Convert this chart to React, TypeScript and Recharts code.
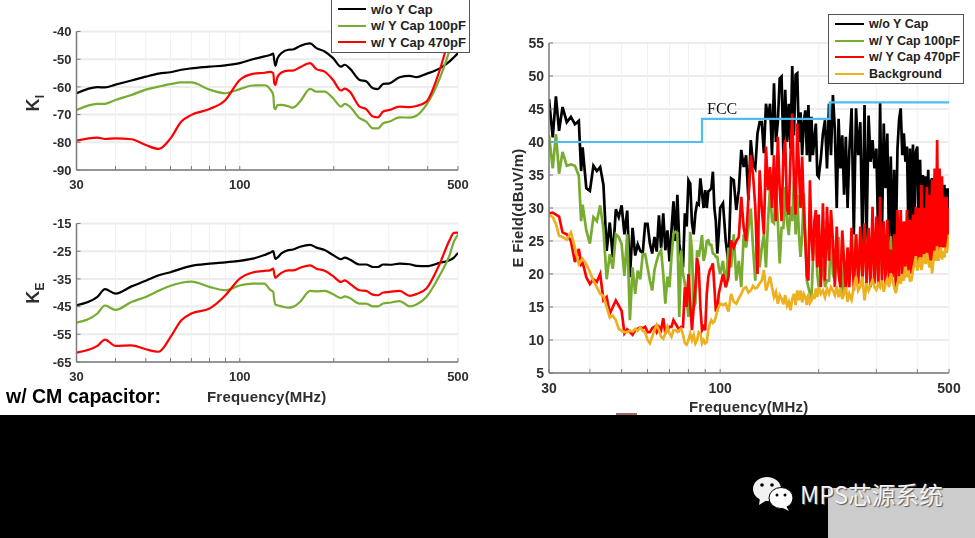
import { CartesianGrid, Line, LineChart, XAxis, YAxis } from "recharts";

// left-hand charts, KI and KE
const coefFreq = [
  30, 35, 37, 40, 45, 50, 55, 60, 65, 70, 80, 90, 100, 110, 120, 125, 128, 129, 130, 132, 136, 143, 148,
  156, 168, 176, 187, 199, 211, 217, 225, 242, 254, 267, 277, 288, 302, 325, 350, 368, 396, 437, 470, 485, 500,
];
const kiNoCap = [
  -62.3, -60.1, -60.2, -59.2, -57.7, -56.3, -55.2, -54.7, -53.8, -53.3, -52.7, -52.2, -51.4, -50, -49, -48.5, -48, -50.5, -52.4, -49.8, -47.8, -46.6, -46.5,
  -45.2, -44.3, -46, -47.2, -49.6, -52.7, -52, -53.3, -57.5, -58, -60.5, -60.8, -58.9, -58.7, -56.5, -56, -56.5, -55.3, -53.3, -50.8, -49.3, -47.8,
];
const ki100pF = [
  -68.3, -66.1, -66.1, -64.7, -62.9, -61, -59.9, -59, -58.4, -58.4, -61, -62.3, -60.8, -59.5, -59.4, -60.8, -62.9, -67.7, -68, -66.6, -66.5, -67, -67.5,
  -65.3, -60.7, -61.7, -61.7, -64.1, -67.1, -66.1, -67.1, -71.3, -72.5, -75, -75, -73.1, -72.5, -71, -71.1, -70.4, -66.5, -56.9, -46.6, -40.6, -35.8,
];
const ki470pF = [
  -79.4, -78.3, -78.8, -78.6, -78.9, -81, -82.4, -78.6, -72.5, -70.1, -68, -64.7, -57.5, -55.3, -54.9, -54.6, -55, -58.7, -59.3, -56.5, -54.8, -54.1, -54.1,
  -52.9, -51.4, -53.6, -54.5, -57.5, -61.3, -60.6, -61.7, -67.1, -68, -70.7, -71, -68.9, -68.3, -67.1, -67.3, -66.9, -65.3, -53.9, -41.8, -37, -34.6,
];
const keNoCap = [
  -44.5, -41.5, -38.7, -40.3, -37.7, -35.7, -33.7, -32.6, -31.3, -30.3, -29.5, -29, -28.5, -27.7, -26.4, -25.6, -25, -26.4, -27.8, -27.3, -25.8, -24.6, -24.4,
  -23.4, -22.7, -23.7, -24.6, -26.4, -27.9, -27.3, -28, -29.8, -29.8, -30.7, -30.7, -29.8, -29.9, -29.5, -29.7, -30.3, -30.4, -29.2, -28.3, -27.3, -25.6,
];
const ke100pF = [
  -50.8, -47.5, -44.6, -46.2, -43.3, -41.5, -39.3, -37.5, -36.4, -36, -37.9, -39.1, -37.4, -36.7, -36.7, -38.9, -39.7, -42.7, -44.2, -44.5, -44.9, -45.4, -45.1,
  -43.3, -39.3, -39.5, -39.3, -40.5, -41.9, -41.3, -41.9, -43.9, -43.9, -44.9, -44.9, -43.9, -43.6, -43, -44.9, -44.2, -41.5, -33.7, -26.4, -21.6, -19,
];
const ke470pF = [
  -61.6, -59.2, -56.9, -59.2, -59, -60.4, -61.3, -56, -49.9, -47.5, -45.7, -40.9, -34.9, -32.7, -32.1, -31.9, -31.3, -33.3, -34.6, -34, -32.8, -31.9, -31.9,
  -31, -30.1, -31.3, -32.1, -34, -36.1, -35.5, -36.7, -39.1, -39.3, -40.7, -40.9, -39.9, -39.7, -39.3, -41.1, -40.5, -38.5, -29.5, -21, -18.4, -18.3,
];

// right-hand chart, measured E field
const fieldFreq = [
  30, 30.8, 31.5, 32.2, 33, 34, 35, 36, 37, 37.6,
  38, 39, 40, 41, 42, 43, 44, 45, 46, 47,
  48, 49, 50, 51, 52, 53, 54, 55, 56, 57,
  58, 59, 60, 61, 62, 63, 64, 65, 66, 67,
  68, 69, 70, 71, 72, 73, 74, 75, 76, 77,
  78, 79, 80, 81, 82, 83, 84, 85, 86, 87,
  88, 89, 90, 91, 92, 93, 94, 95, 96, 97,
  98, 99, 100,
  102, 104, 106, 108, 110, 112, 114, 116, 118, 120,
  122, 124, 126, 128, 130, 132, 134, 136, 138, 140,
  142, 144, 146, 148, 150, 152, 154, 156, 158, 160,
  162, 164, 166, 168, 170, 172, 174, 176, 178, 180,
  182, 184, 186, 188, 190, 192, 194, 196, 198, 200,
  203, 206, 209, 212, 215, 218, 221, 224, 227, 230, 233, 236, 239, 242, 245, 248,
  252, 256, 260, 264, 268, 272, 276, 280, 284, 288,
  292, 296, 300, 304, 308, 312, 316, 320, 324, 328,
  332, 336, 340, 344, 348, 352, 356, 360, 364, 368,
  372, 376, 380, 384, 388, 392, 396, 400, 404, 408,
  412, 416, 420, 424, 428, 432, 436, 440, 444, 448,
  452, 456, 460, 464, 468, 472, 476, 480, 484, 488,
  492, 496, 500,
];
const fieldNoCap = [
  46.5, 40.7, 46.9, 41.7, 45.3, 43, 43.8, 42.7, 43.2, 35.6,
  39.2, 33, 32.6, 36.4, 35.6, 36.2, 33.5, 23.5, 27.8, 22.5,
  29.8, 28.6, 30.4, 26, 29.6, 19.5, 27, 22.8, 24.5, 23.5,
  23.2, 27.6, 27.6, 24.6, 23.1, 25.6, 23.4, 28.9, 23.9, 29.2,
  23.6, 26.6, 21.9, 26.6, 31, 25, 32, 24.6, 22.6, 21,
  29.2, 27.2, 34.2, 33.7, 27.7, 26, 29.2, 30.7, 30.5, 34.5,
  32.2, 30, 32.7, 30, 32.5, 32.7, 33, 35.5, 30, 28,
  23.1, 26, 30,
  30.7, 25, 21.6, 34.5, 34.2, 29.7, 32.7, 38.8, 36.2, 38,
  31.2, 40.3, 36.7, 36, 41.3, 43, 43, 38.3, 45.8, 43.5,
  45.8, 38, 48.9, 40, 43, 49.6, 49.9, 38, 47.9, 40,
  45.8, 39, 51.5, 41, 50.2, 50.4, 40, 44.5, 38, 43,
  44.8, 38, 45.6, 37, 43.8, 38, 40.5, 42.8, 35, 34.7,
  37.5, 41.3, 43.3, 36, 45.8, 38, 47.1, 42, 30, 43.5, 36, 41, 32, 40.8, 30, 38.5,
  45.1, 26, 45.1, 38, 43, 24, 45.6, 25, 44, 37,
  40.3, 36, 39, 25, 45.9, 26, 42.8, 33, 41.3, 24,
  37.8, 24, 35.8, 24, 39, 43.4, 45.1, 38, 41.3, 37,
  39.3, 26, 39, 26, 39.6, 27, 38.5, 39.3, 27, 37.3,
  27, 35, 27, 34.8, 27, 35.8, 27, 34, 34.5, 27,
  34, 28, 33, 28, 33, 27, 32.7, 27, 33.5, 27,
  33, 26, 33,
];
const field100pF = [
  41, 36, 41.2, 35.2, 38.5, 36.4, 36.6, 36.4, 34.9, 28,
  30.5, 26.6, 24.6, 28.6, 28, 30.4, 26.8, 19.2, 23, 20.8,
  26, 25.6, 24.5, 19.7, 26, 13, 21, 17, 20.5, 19.2,
  23, 23, 21, 19, 17.5, 20.6, 22, 23.1, 23.6, 20,
  15.5, 19.6, 18, 22.6, 26.1, 26.4, 26.2, 13.5, 23.6, 20,
  18.6, 16, 13.5, 26.4, 23.6, 15, 15.5, 23.6, 22.6, 24,
  25.9, 22, 23, 25, 25.1, 24.4, 24.4, 23.1, 23, 22.6,
  22.6, 21, 20,
  22, 18, 24, 21, 26, 19, 22, 18, 26, 24,
  27, 29.9, 24, 19, 28, 21, 24, 26, 21, 28,
  33.2, 28, 27.7, 33.2, 28, 21.6, 27, 27, 33.2, 28,
  25.9, 30.2, 28, 34.2, 26, 32, 26, 22.6, 26, 32.2,
  26, 19, 18, 17, 16, 22, 25, 25, 20, 18,
  19, 22, 18, 19, 19, 26, 20, 19, 24, 25.6, 20, 17, 22, 18, 24, 19,
  22, 20, 26, 21, 24, 19, 27.5, 21, 26, 20,
  26, 20, 25, 19, 27, 20, 25, 22, 26, 21,
  25.7, 21, 24, 20, 25, 22, 25, 22, 24, 22,
  24, 23, 26, 24, 26, 24, 27, 25, 28, 25,
  28, 25, 29, 26, 30, 26, 26, 27, 28, 25,
  28, 26, 28, 26, 27, 25, 28, 25, 27, 25,
  28, 24, 26,
];
const field470pF = [
  29.2, 29.3, 29, 28.7, 26.3, 26, 25, 21.8, 23.8, 21.5,
  21.8, 19.5, 18.5, 19.2, 18.8, 20, 16, 16.5, 14, 15,
  16, 15.2, 14.4, 11, 11.6, 11.2, 10.8, 11.5, 11.7, 11.9,
  11.8, 12, 11.2, 11.2, 11.8, 12, 11.2, 12, 11.5, 13.3,
  11, 11.5, 12, 12, 13, 12.5, 12, 11.5, 12, 12,
  18, 15, 20, 15.5, 11.5, 15, 18, 22.4, 21, 15,
  11.5, 12, 11.5, 17, 19.6, 20.6, 21, 21.6, 18, 14.5,
  14.5, 17, 18,
  20, 18, 19.5, 25.1, 24, 25, 25.6, 31.7, 27, 25,
  31.7, 38, 35, 30.2, 20, 35.7, 30, 26, 39.3, 32.7,
  36.2, 30, 38, 28, 40.8, 33, 28, 38, 40.3, 30,
  29, 38, 44.3, 34, 29, 42.8, 36, 30, 37.8, 30,
  25, 19.6, 19, 34.2, 26, 22, 28, 29.7, 21, 29,
  18, 30.7, 19, 30.2, 22, 29.7, 25, 18, 27.2, 20, 18, 26.6, 22, 17.5, 24, 18,
  27, 17.5, 26, 18.5, 27.2, 19, 27.7, 18.5, 27, 18,
  30.2, 18.5, 28.7, 18.5, 31.7, 19, 28, 18.5, 28.2, 18.5,
  23.7, 19.5, 26, 18, 29.7, 19.6, 29.7, 20, 28, 21,
  29.7, 20.5, 28.2, 20, 29, 21.5, 30.2, 21, 30, 22.5,
  33.5, 22, 30, 22, 33.2, 22, 32, 22, 34.3, 22,
  36, 23, 40.3, 23, 36, 24, 34.8, 24, 31.7, 24,
  31.7, 25, 30,
];
const fieldBackground = [
  29, 28.6, 27.6, 25.8, 25.6, 25.2, 26.3, 24, 21.5, 22,
  22.3, 21.5, 20.3, 19, 18, 17, 16.7, 15, 13.4, 13.7,
  13, 11.7, 11.4, 11.2, 11.2, 11.4, 11.3, 11.7, 11.4, 11.9,
  11.4, 11.2, 10, 9.5, 10.5, 11.5, 12.3, 11.5, 10.5, 10.2,
  11, 12, 11, 10.5, 11.5, 11.5, 11.2, 11.5, 11.7, 10.8,
  9.5, 9.3, 10, 11, 10, 10.8, 9.5, 10, 11.2, 11,
  9.5, 10, 9.5, 9.7, 11.5, 12.5, 13, 12.6, 12.8, 13.5,
  14.5, 15, 15.5,
  15.3, 15.5, 14.3, 17, 15.8, 15.5, 16.3, 17, 17.8, 18,
  17.2, 17.5, 18.2, 17.8, 18, 18.6, 19, 20.6, 17.5, 18.5,
  19.6, 18, 16.5, 17.3, 15.5, 16.8, 16.3, 15.4, 16.8, 15.2,
  15.8, 14.5, 16.2, 17, 15.3, 17.5, 16, 17.5, 15.7, 17,
  16.5, 15.3, 17, 15.6, 16, 17, 16.2, 17.8, 16.5, 18,
  17, 17.5, 16.5, 17.8, 17, 18, 17.5, 16.8, 18.2, 16.5, 17.8, 16.2, 17, 18, 15.8, 17,
  16.1, 18, 19.6, 17.5, 18.1, 19.6, 16, 18.6, 17.5, 18.3,
  19.1, 18, 17.6, 18.5, 18, 19, 17.3, 18.5, 19.3, 18,
  20.1, 19, 18, 17.1, 18.5, 19.6, 18.5, 20, 19, 21.1,
  19.5, 20.5, 19, 19.1, 20.5, 21.5, 22.7, 20.5, 21.5, 22.5,
  20.6, 22, 23, 21.5, 23.2, 22, 21, 22, 20.1, 22,
  23.5, 22, 24.2, 22, 23, 24, 22.2, 23.5, 22.5, 24,
  23.2, 24.5, 26,
];
const fccFreq = [30, 88, 88, 216, 216, 500];
const fccLimit = [40, 40, 43.5, 43.5, 46, 46];

const logTicks = [30, 40, 50, 60, 70, 80, 90, 100, 200, 300, 400, 500];
const labelledTicks = [30, 100, 500];
const kiTicks = [-90, -80, -70, -60, -50, -40];
const keTicks = [-65, -55, -45, -35, -25, -15];
const fieldTicks = [5, 10, 15, 20, 25, 30, 35, 40, 45, 50, 55];

const capNames = ["w/o Y Cap", "w/ Y Cap 100pF", "w/ Y Cap 470pF"];
const backgroundName = "Background";

const BLACK = "#000000";
const GREEN = "#77AC30";
const RED = "#FF0000";
const ORANGE = "#EDB120";
const BLUE = "#4DBEEE";
const AXIS = "#7a7a7a";
const TEXT = "#2e2e2e";
const FONT = '"Liberation Sans", Arial, sans-serif';

const coefRows = (a: number[], b: number[], c: number[]) =>
  coefFreq.map((freq, i) => ({ freq, a: a[i], b: b[i], c: c[i] }));

const fieldRows = fieldFreq.map((freq, i) => ({
  freq,
  a: fieldNoCap[i],
  b: field100pF[i],
  c: field470pF[i],
  d: fieldBackground[i],
}));

const fccRows = fccFreq.map((freq, i) => ({ freq, limit: fccLimit[i] }));

const xLabel = (v: number) => (labelledTicks.includes(v) ? String(v) : "");

interface FrameProps {
  width: number;
  height: number;
  left: number;
  right: number;
  top: number;
  bottom: number;
  fontSize: number;
  domain: [number, number];
  ticks: number[];
  data: Record<string, number>[];
  children: React.ReactNode;
}

// shared MATLAB-ish box: log x axis, ticks pointing inwards, faint grid
function frame({ width, height, left, right, top, bottom, fontSize, domain, ticks, data, children }: FrameProps) {
  const tick = { fill: TEXT, fontSize, fontWeight: 700, fontFamily: FONT };
  const line = { stroke: AXIS, strokeWidth: 1.5 };
  return (
    <LineChart width={width} height={height} data={data} margin={{ top, right, left: 0, bottom: 0 }}>
      <CartesianGrid vertical={false} stroke="#ececec" strokeWidth={2} syncWithTicks />
      <CartesianGrid horizontal={false} stroke="#f1f1f1" strokeWidth={1} syncWithTicks />
      <XAxis
        dataKey="freq"
        type="number"
        scale="log"
        domain={[30, 500]}
        ticks={logTicks}
        interval={0}
        allowDataOverflow
        height={bottom}
        tick={tick}
        tickFormatter={xLabel}
        tickSize={-4}
        tickMargin={14}
        axisLine={line}
        tickLine={{ stroke: AXIS }}
      />
      <XAxis
        xAxisId="top"
        dataKey="freq"
        type="number"
        scale="log"
        orientation="top"
        domain={[30, 500]}
        ticks={logTicks}
        interval={0}
        allowDataOverflow
        height={0}
        tick={false}
        tickSize={-4}
        axisLine={{ stroke: "#999999", strokeWidth: 1.5 }}
        tickLine={{ stroke: AXIS }}
      />
      <YAxis
        type="number"
        domain={domain}
        ticks={ticks}
        interval={0}
        allowDataOverflow
        width={left}
        tick={tick}
        tickSize={-4}
        tickMargin={9}
        axisLine={line}
        tickLine={{ stroke: AXIS }}
      />
      <YAxis
        yAxisId="right"
        orientation="right"
        type="number"
        domain={domain}
        ticks={ticks}
        interval={0}
        allowDataOverflow
        width={0}
        tick={false}
        tickSize={-4}
        axisLine={{ stroke: "#a8a8a8", strokeWidth: 1.5 }}
        tickLine={{ stroke: AXIS }}
      />
      {children}
    </LineChart>
  );
}

const series = (key: string, color: string, smooth: boolean) => (
  <Line
    key={key}
    dataKey={key}
    type={smooth ? "monotone" : "linear"}
    stroke={color}
    strokeWidth={smooth ? 2.2 : 2.7}
    dot={false}
    isAnimationActive={false}
    legendType="none"
  />
);

function LegendBox({
  left,
  top,
  width,
  rowHeight,
  fontSize,
  lineWidth,
  names,
  colors,
}: {
  left: number;
  top: number;
  width: number;
  rowHeight: number;
  fontSize: number;
  lineWidth: number;
  names: string[];
  colors: string[];
}) {
  return (
    <div
      style={{
        position: "absolute",
        left,
        top,
        width,
        background: "#fff",
        border: "1px solid #555",
        boxSizing: "border-box",
        padding: "1px 0",
      }}
    >
      {names.map((name, i) => (
        <div
          key={name}
          style={{
            display: "flex",
            alignItems: "center",
            height: rowHeight,
            paddingLeft: 6,
            fontSize,
            fontWeight: 700,
            color: "#222",
            whiteSpace: "nowrap",
          }}
        >
          <span style={{ width: lineWidth, height: 2, background: colors[i], marginRight: 5, flex: "none" }} />
          {name}
        </div>
      ))}
    </div>
  );
}

const place = (left: number, top: number): React.CSSProperties => ({ position: "absolute", left, top });

const axisTitle: React.CSSProperties = {
  fontWeight: 700,
  color: TEXT,
  whiteSpace: "nowrap",
  lineHeight: 1,
  fontSize: 15,
  letterSpacing: 0.2,
};

function SideLabel({ cx, cy, main, sub }: { cx: number; cy: number; main: string; sub?: string }) {
  return (
    <div
      style={{
        ...place(cx, cy),
        ...axisTitle,
        fontSize: sub ? 18 : 15,
        transform: "translate(-50%, -50%) rotate(-90deg)",
      }}
    >
      {main}
      {sub && <sub style={{ fontSize: 12 }}>{sub}</sub>}
    </div>
  );
}

export default function App() {
  return (
    <div
      style={{
        position: "absolute",
        left: 0,
        top: 0,
        width: 975,
        height: 538,
        overflow: "hidden",
        background: "#fff",
        fontFamily: FONT,
      }}
    >
      {/* the source is a scaled screenshot, everything above the black band is a little soft */}
      <div style={{ ...place(0, 0), width: 975, height: 415, filter: "blur(0.45px)" }}>
        <div style={place(0, 0)}>
          {frame({
            width: 475,
            height: 195,
            left: 76.5,
            right: 17,
            top: 31.5,
            bottom: 25,
            fontSize: 13,
            domain: [-90, -40],
            ticks: kiTicks,
            data: coefRows(kiNoCap, ki100pF, ki470pF),
            children: [series("a", BLACK, true), series("b", GREEN, true), series("c", RED, true)],
          })}
        </div>
        <div style={place(0, 190)}>
          {frame({
            width: 475,
            height: 197,
            left: 76.5,
            right: 17,
            top: 33.5,
            bottom: 25,
            fontSize: 13,
            domain: [-65, -15],
            ticks: keTicks,
            data: coefRows(keNoCap, ke100pF, ke470pF),
            children: [series("a", BLACK, true), series("b", GREEN, true), series("c", RED, true)],
          })}
        </div>
        <div style={place(490, 0)}>
          {frame({
            width: 485,
            height: 398,
            left: 59,
            right: 26,
            top: 43,
            bottom: 25,
            fontSize: 14,
            domain: [5, 55],
            ticks: fieldTicks,
            data: fieldRows,
            children: [
              series("a", BLACK, false),
              series("b", GREEN, false),
              series("c", RED, false),
              series("d", ORANGE, false),
              <Line
                key="fcc"
                data={fccRows}
                dataKey="limit"
                type="linear"
                stroke={BLUE}
                strokeWidth={2.2}
                dot={false}
                isAnimationActive={false}
                legendType="none"
              />,
            ],
          })}
        </div>

        <SideLabel cx={35} cy={103} main="K" sub="I" />
        <SideLabel cx={35} cy={293} main="K" sub="E" />
        <SideLabel cx={517} cy={208} main="E Field(dBuV/m)" />
        <div style={{ ...place(207, 389), ...axisTitle }}>Frequency(MHz)</div>
        <div style={{ ...place(689, 399), ...axisTitle }}>Frequency(MHz)</div>
        <div style={{ ...place(6, 387), fontSize: 19.5, fontWeight: 700, color: "#000", whiteSpace: "nowrap", lineHeight: 1 }}>
          w/ CM capacitor:
        </div>
        <div style={{ ...place(707, 101), fontFamily: '"Liberation Serif", serif', fontSize: 16, color: "#111", lineHeight: 1 }}>
          FCC
        </div>

        <LegendBox
          left={331}
          top={-1}
          width={139}
          rowHeight={16.5}
          fontSize={13}
          lineWidth={28}
          names={capNames}
          colors={[BLACK, GREEN, RED]}
        />
        <LegendBox
          left={828}
          top={14}
          width={136}
          rowHeight={16.5}
          fontSize={12.5}
          lineWidth={29}
          names={[...capNames, backgroundName]}
          colors={[BLACK, GREEN, RED, ORANGE]}
        />
      </div>

      <div style={{ ...place(0, 415), width: 975, height: 123, background: "#000" }} />
      <div style={{ ...place(616, 413), width: 21, height: 2, background: "#9a6a6a" }} />
      <div style={{ ...place(828, 488), width: 147, height: 50, background: "#cccccc" }} />
      <svg width={46} height={40} style={place(752, 474)}>
        <ellipse cx={15} cy={15} rx={14} ry={12} fill="#f2f2f2" />
        <path d="M8 24 L7 31 L15 26 Z" fill="#f2f2f2" />
        <ellipse cx={29} cy={24} rx={12} ry={10.5} fill="#fff" stroke="#000" strokeWidth={1} />
        <path d="M34 32 L37 37 L29 33 Z" fill="#fff" />
        <circle cx={10} cy={11} r={1.8} fill="#000" />
        <circle cx={20} cy={11} r={1.8} fill="#000" />
        <circle cx={25} cy={21} r={1.5} fill="#000" />
        <circle cx={33} cy={21} r={1.5} fill="#000" />
      </svg>
      <div
        style={{
          ...place(800, 481),
          fontFamily: '"Noto Sans CJK SC", "Noto Sans", sans-serif',
          fontSize: 23.7,
          fontWeight: 400,
          color: "#f4f4f4",
          whiteSpace: "nowrap",
          lineHeight: 1.1,
          textShadow: "1px 1px 1px #555",
        }}
      >
        MPS芯源系统
      </div>
    </div>
  );
}
